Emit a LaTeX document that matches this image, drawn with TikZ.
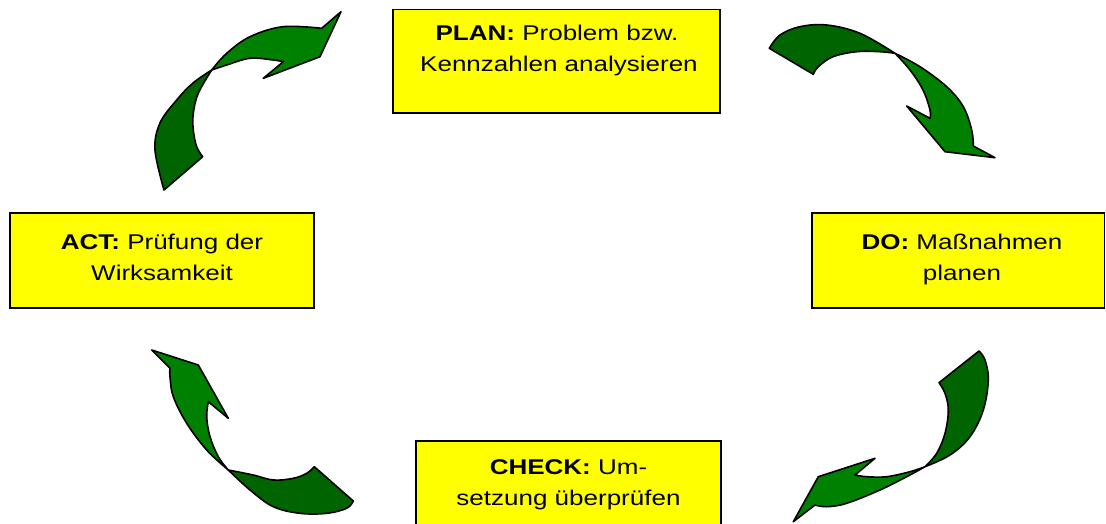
\documentclass[tikz,border=0pt]{standalone}
\usepackage{fontspec}
\setmainfont{Liberation Sans}
\usepackage{graphicx}
\definecolor{lightg}{RGB}{0,128,0}
\definecolor{darkg}{RGB}{0,100,0}
\definecolor{boxyellow}{RGB}{255,255,0}
\newcommand{\sqz}[1]{\scalebox{1}[0.82]{#1}}
\tikzset{
  stagebox/.style={draw=black, fill=boxyellow, line width=1.3pt},
  stageline/.style={inner sep=0pt, anchor=base, font=\fontsize{26}{31}\selectfont},
  arrback/.style={fill=darkg, draw=black, line width=1.6pt, line join=round},
  arrfront/.style={fill=lightg, draw=black, line width=1.6pt, line join=round},
  sm/.style={smooth, tension=0.6}
}
\begin{document}
\begin{tikzpicture}[x=1pt, y=-1pt]
\useasboundingbox (0,0) rectangle (1106,523);
\clip (0,0) rectangle (1106,523);

% boxes
\draw[stagebox] (393,9.5) rectangle (720,113) coordinate (planbox);
\draw[stagebox] (10,213) rectangle (314,308) coordinate (actbox);
\draw[stagebox] (812,213) rectangle (1104.5,308) coordinate (dobox);
\draw[stagebox] (416,441) rectangle (721,560) coordinate (checkbox);

% texts
\node[stageline] (plan1) at (557,40.5) {\sqz{\textbf{PLAN:} Problem bzw.}};
\node[stageline] (plan2) at (559,71) {\sqz{Kennzahlen analysieren}};
\node[stageline] (act1) at (162,249) {\sqz{\textbf{ACT:} Prüfung der}};
\node[stageline] (act2) at (162,280) {\sqz{Wirksamkeit}};
\node[stageline] (do1) at (962,249) {\sqz{\textbf{DO:} Maßnahmen}};
\node[stageline] (do2) at (962,280) {\sqz{planen}};
\node[stageline] (check1) at (568.5,474.5) {\sqz{\textbf{CHECK:} Um-}};
\node[stageline] (check2) at (568.5,505.5) {\sqz{setzung überprüfen}};

% top-right arrow (PLAN -> DO)
\path[arrback] (769.3,48.3) -- plot[sm] coordinates {(769.3,48.3) (780,35) (800,26.7) (826.7,25) (860,33.3) (895,53.3)}
  -- plot[sm] coordinates {(895,53.3) (880,51.7) (856.7,51.7) (833,56.7) (818.3,66.7) (813.3,74.3)} -- cycle;
\path[arrfront] (895,53.3) -- plot[sm] coordinates {(895,53.3) (910,70) (923,90) (930,110) (930,118.3)}
  -- (906.7,106) -- (945,151.7) -- (995,157.7) -- (973.3,146)
  -- plot[sm] coordinates {(973.3,146) (971.7,130) (963.3,106.7) (946.7,86.7) (920,66.7) (895,53.3)} -- cycle;

% bottom-right arrow (DO -> CHECK)
\path[arrback] (979,351) -- plot[sm] coordinates {(979,351) (985,360) (988.3,380) (983.3,410) (970,436.7) (950,455) (925,466.7)}
  -- plot[sm] coordinates {(925,466.7) (936.7,453.3) (945,433.3) (948.3,410) (945,393.3) (939,382.7)} -- cycle;
\path[arrfront] (925,466.7) -- plot[sm] coordinates {(925,466.7) (906.7,476.7) (880,490) (846.7,503.3) (826.7,506.7) (815,505)}
  -- (793.3,521.7) -- (818.3,476.7) -- (875,458.3) -- (855,475)
  -- plot[sm] coordinates {(855,475) (866.7,476.7) (886.7,476.7) (910,471.7) (925,466.7)} -- cycle;

% bottom-left arrow (CHECK -> ACT)
\path[arrback] (353.3,501) -- plot[sm] coordinates {(353.3,501) (346.7,508.3) (326.7,513.3) (300,513.3) (273.3,506.7) (250,490) (228.3,470)}
  -- plot[sm] coordinates {(228.3,470) (253.3,475) (273.3,480) (293.3,478.3) (306.7,473.3) (314.3,466.7)} -- cycle;
\path[arrfront] (228.3,470) -- plot[sm] coordinates {(228.3,470) (206.7,450) (186.7,423.3) (173.3,396.7) (170,376.7) (170,368.3)}
  -- (151.7,350) -- (198.3,365) -- (228.3,418.3) -- (208.3,401.7)
  -- plot[sm] coordinates {(208.3,401.7) (206.7,416.7) (210,436.7) (218.3,456.7) (228.3,470)} -- cycle;

% top-left arrow (ACT -> PLAN)
\path[arrback] (164,190) -- plot[sm] coordinates {(164,190) (155,150) (160,123) (176.7,100) (193,83) (211.7,70)}
  -- plot[sm] coordinates {(211.7,70) (198.3,93.3) (193.3,113.3) (193.3,130) (196.7,146.7) (202.7,156.7)} -- cycle;
\path[arrfront] (211.7,70) -- plot[sm] coordinates {(211.7,70) (226.7,53.3) (250,36.7) (283,26.7) (321.7,28.3)}
  -- (341,11.7) -- (320,56.7) -- (263.3,78.3) -- (283.3,61.7)
  -- plot[sm] coordinates {(283.3,61.7) (273.3,60) (250,58.3) (226.7,65) (211.7,70)} -- cycle;
\end{tikzpicture}
\end{document}
